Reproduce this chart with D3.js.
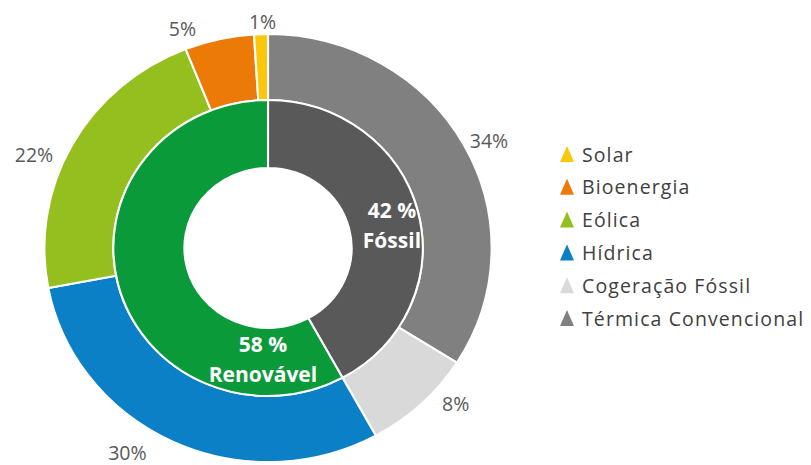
<!DOCTYPE html>
<html>
<head>
<meta charset="utf-8">
<script src="https://cdn.jsdelivr.net/npm/d3@7"></script>
<style>
  html, body { margin: 0; padding: 0; background: #ffffff; }
  svg { display: block; }
</style>
</head>
<body>
<svg id="chart" width="811" height="465"></svg>
<script>
// ---- DATA ----
const outerCategories = ["Térmica Convencional", "Cogeração Fóssil", "Hídrica", "Eólica", "Bioenergia", "Solar"];
const outerValues = [34, 8, 30, 22, 5, 1];
const outerLabels = ["34%", "8%", "30%", "22%", "5%", "1%"];

const innerCategories = ["Fóssil", "Renovável"];
const innerValues = [42, 58];
const innerLabels = ["42 %", "58 %"];

const legendCategories = ["Solar", "Bioenergia", "Eólica", "Hídrica", "Cogeração Fóssil", "Térmica Convencional"];

// ---- STYLE / LAYOUT ----
const colors = {
  "Térmica Convencional": "#808080",
  "Cogeração Fóssil": "#d9d9d9",
  "Hídrica": "#0b80c6",
  "Eólica": "#95bf1f",
  "Bioenergia": "#ec7a06",
  "Solar": "#fbc70a",
  "Fóssil": "#595959",
  "Renovável": "#0b9a3a"
};

const cx = 268, cy = 248, sx = 1.045;
const rHole = 80, rMid = 148, rOuter = 214;

const svg = d3.select("#chart");
const g = svg.append("g").attr("transform", `translate(${cx},${cy}) scale(${sx},1)`);

const pie = d3.pie().sort(null).value(d => d.v).startAngle(0).endAngle(2 * Math.PI);

const outerData = pie(outerCategories.map((c, i) => ({ c, v: outerValues[i], l: outerLabels[i] })));
const innerData = pie(innerCategories.map((c, i) => ({ c, v: innerValues[i], l: innerLabels[i] })));

const arcOuter = d3.arc().innerRadius(rMid).outerRadius(rOuter);
const arcInner = d3.arc().innerRadius(rHole).outerRadius(rMid);

g.selectAll("path.outer").data(outerData).join("path")
  .attr("class", "outer")
  .attr("d", arcOuter)
  .attr("fill", d => colors[d.data.c])
  .attr("stroke", "#ffffff")
  .attr("stroke-width", 2);

g.selectAll("path.inner").data(innerData).join("path")
  .attr("class", "inner")
  .attr("d", arcInner)
  .attr("fill", d => colors[d.data.c])
  .attr("stroke", "#ffffff")
  .attr("stroke-width", 2);

// ---- OUTER LABELS ----
const labelR = rOuter + 14;
const labelNudge = [[-7, 2], [11, -11], [-20, -2], [-6, 16], [-20, 3], [2, 1]];
svg.append("g").selectAll("text.olab").data(outerData).join("text")
  .attr("class", "olab")
  .each(function (d, i) {
    const a = (d.startAngle + d.endAngle) / 2;
    const s = Math.sin(a), c = Math.cos(a);
    const x = cx + sx * labelR * s, y = cy - labelR * c;
    const anchor = Math.abs(s) < 0.2 ? "middle" : (s > 0 ? "start" : "end");
    d3.select(this)
      .attr("x", x + labelNudge[i][0])
      .attr("y", y + labelNudge[i][1])
      .attr("text-anchor", anchor)
      .attr("dominant-baseline", "central");
  })
  .attr("font-family", "'Open Sans', sans-serif")
  .attr("font-size", 19.5)
  .attr("fill", "#595959")
  .text(d => d.data.l);

// ---- INNER LABELS ----
const innerFrac = [0.52, 0.15];
const innerLabelR = [121, 110];
const ig = svg.append("g");
innerData.forEach((d, i) => {
  const a = d.startAngle + innerFrac[i] * (d.endAngle - d.startAngle);
  const x = cx + sx * innerLabelR[i] * Math.sin(a);
  const y = cy - innerLabelR[i] * Math.cos(a);
  const t = ig.append("text")
    .attr("x", x).attr("y", y)
    .attr("text-anchor", "middle")
    .attr("font-family", "'Open Sans', sans-serif")
    .attr("font-weight", "bold")
    .attr("font-size", 21)
    .attr("fill", "#ffffff");
  t.append("tspan").attr("x", x).attr("dy", "-0.3em").text(d.data.l);
  t.append("tspan").attr("x", x).attr("dy", "1.45em").text(d.data.c);
});

// ---- LEGEND ----
const legendY = d3.scalePoint().domain(legendCategories).range([154, 318]);
const lg = svg.append("g");
const items = lg.selectAll("g.item").data(legendCategories).join("g")
  .attr("class", "item")
  .attr("transform", d => `translate(560,${legendY(d)})`);
items.append("path")
  .attr("d", "M7,-8 L14,8 L0,8 Z")
  .attr("fill", d => colors[d]);
items.append("text")
  .attr("x", 22)
  .attr("y", 0)
  .attr("dominant-baseline", "central")
  .attr("font-family", "'Open Sans', sans-serif")
  .attr("font-size", 19.5)
  .attr("letter-spacing", 1.1)
  .attr("fill", "#404040")
  .text(d => d);
</script>
</body>
</html>
